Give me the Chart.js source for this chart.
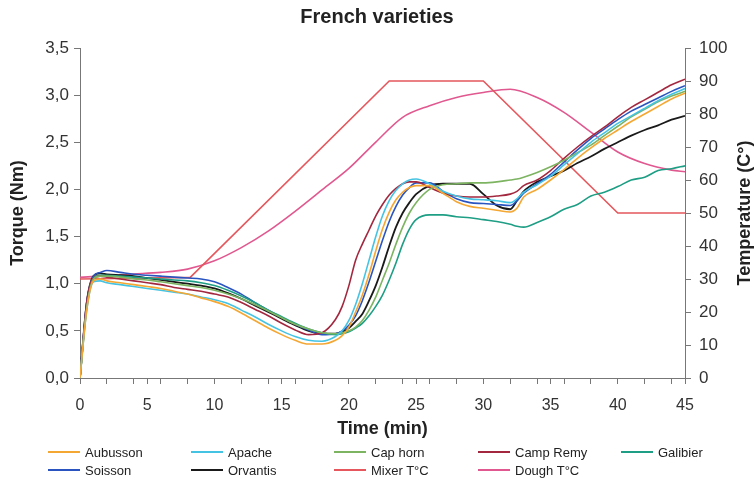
<!DOCTYPE html>
<html>
<head>
<meta charset="utf-8">
<script src="https://cdn.jsdelivr.net/npm/chart.js@4"></script>
<style>
  body { margin: 0; background: #fff; }
  #wrap { position: relative; width: 754px; height: 479px; }
  #legend { position: absolute; left: 0; top: 0; width: 754px; height: 479px; pointer-events: none;
            font-family: 'Liberation Sans', Arial, sans-serif; font-size: 13px; color: #222; }
  .item { position: absolute; display: flex; align-items: center; height: 16px; white-space: nowrap; }
  .swatch { display: inline-block; width: 32px; height: 2px; margin-right: 5px; }
</style>
</head>
<body>
<div id="wrap">
  <canvas id="chart" width="754" height="440"></canvas>
  <div id="legend"></div>
</div>
<script>
// time axis (min) shared by torque curves
const time = [0, 0.5, 1, 1.5, 2, 3, 4, 5, 6, 7, 8, 9, 10, 11, 12, 13, 14, 15, 16, 17, 18,
  19, 19.5, 20, 20.5, 21, 21.5, 22, 22.5, 23, 23.5, 24, 24.5, 25,
  26, 27, 28, 29, 30, 31, 32, 32.5, 33, 34, 35, 36, 37, 38, 39, 40, 41, 42, 43, 44, 45];

// torque (Nm)
const aubusson = [0, 0.72, 1.03, 1.05, 1.03,
  1.01, 0.99, 0.97, 0.95, 0.92, 0.89, 0.85, 0.81, 0.76, 0.69, 0.61, 0.53, 0.46, 0.40, 0.36, 0.36,
  0.40, 0.45, 0.54, 0.70, 0.88, 1.10, 1.35, 1.58, 1.76, 1.89, 1.97, 2.02, 2.04,
  2.04, 1.96, 1.87, 1.82, 1.80, 1.78, 1.76, 1.80,
  1.92, 2.00, 2.10, 2.21, 2.33, 2.44, 2.54, 2.63, 2.72, 2.80, 2.88, 2.96, 3.02];
const apache = [0, 0.72, 1.02, 1.03, 1.01,
  0.99, 0.97, 0.95, 0.93, 0.91, 0.89, 0.86, 0.83, 0.79, 0.72, 0.65, 0.57, 0.50, 0.44, 0.40, 0.39,
  0.44, 0.50, 0.61, 0.78, 1.00, 1.25, 1.50, 1.72, 1.88, 1.99, 2.06, 2.10, 2.11,
  2.06, 1.98, 1.93, 1.90, 1.89, 1.88, 1.86, 1.90,
  1.97, 2.05, 2.14, 2.26, 2.38, 2.50, 2.60, 2.70, 2.78, 2.86, 2.94, 3.01, 3.07];
const capHorn = [0, 0.74, 1.05, 1.08, 1.08,
  1.07, 1.05, 1.04, 1.02, 1.00, 0.98, 0.96, 0.93, 0.89, 0.84, 0.78, 0.71, 0.64, 0.57, 0.52, 0.48,
  0.47, 0.48, 0.50, 0.54, 0.61, 0.72, 0.86, 1.04, 1.22, 1.42, 1.60, 1.75, 1.86,
  2.00, 2.05, 2.06, 2.07, 2.07, 2.08, 2.10, 2.11,
  2.13, 2.18, 2.24, 2.31, 2.39, 2.47, 2.57, 2.67, 2.77, 2.85, 2.93, 2.99, 3.04];
const campRemy = [0, 0.80, 1.06, 1.08, 1.07,
  1.05, 1.03, 1.01, 0.99, 0.96, 0.94, 0.92, 0.89, 0.86, 0.80, 0.73, 0.66, 0.58, 0.51, 0.46, 0.48,
  0.62, 0.76, 0.98, 1.25, 1.42, 1.57, 1.72, 1.84, 1.94, 2.01, 2.06, 2.08, 2.08,
  2.02, 1.96, 1.93, 1.92, 1.92, 1.93, 1.95, 1.98,
  2.04, 2.10, 2.20, 2.33, 2.45, 2.56, 2.66, 2.77, 2.87, 2.95, 3.03, 3.11, 3.17];
const galibier = [0, 0.76, 1.06, 1.09, 1.09,
  1.08, 1.07, 1.06, 1.05, 1.04, 1.03, 1.01, 0.98, 0.93, 0.87, 0.80, 0.72, 0.65, 0.58, 0.52, 0.48,
  0.46, 0.47, 0.49, 0.53, 0.58, 0.66, 0.76, 0.88, 1.04, 1.22, 1.42, 1.58, 1.68,
  1.73, 1.73, 1.71, 1.70, 1.68, 1.66, 1.63, 1.61,
  1.60, 1.65, 1.71, 1.79, 1.84, 1.93, 1.97, 2.03, 2.10, 2.13, 2.20, 2.22, 2.25];
const soisson = [0, 0.80, 1.08, 1.12, 1.14,
  1.12, 1.10, 1.09, 1.08, 1.07, 1.06, 1.05, 1.02, 0.96, 0.89, 0.80, 0.72, 0.64, 0.57, 0.51, 0.46,
  0.47, 0.50, 0.56, 0.66, 0.82, 1.02, 1.24, 1.46, 1.66, 1.82, 1.94, 2.02, 2.07,
  2.07, 1.98, 1.90, 1.86, 1.85, 1.84, 1.83, 1.88,
  1.96, 2.06, 2.16, 2.29, 2.42, 2.54, 2.64, 2.74, 2.83, 2.90, 2.97, 3.04, 3.10];
const orvantis = [0, 0.80, 1.08, 1.11, 1.10,
  1.09, 1.08, 1.06, 1.04, 1.02, 1.00, 0.98, 0.95, 0.90, 0.84, 0.77, 0.70, 0.63, 0.56, 0.50, 0.47,
  0.47, 0.49, 0.53, 0.60, 0.68, 0.82, 0.98, 1.18, 1.40, 1.60, 1.75, 1.86, 1.95,
  2.04, 2.06, 2.06, 2.06, 1.95, 1.83, 1.79, 1.88,
  1.98, 2.08, 2.14, 2.20, 2.28, 2.35, 2.43, 2.50, 2.57, 2.63, 2.68, 2.74, 2.78];

// temperatures (°C)
const mixerTime = [0, 8.2, 23, 30, 40, 45];
const mixerTemp = [30, 30.5, 90, 90, 50, 50];
const doughTime = [0, 2, 4, 6, 8, 10, 12, 14, 16, 18, 20, 22, 24, 26, 28, 30, 32, 34, 36, 38, 40, 42, 44, 45];
const doughTemp = [30.5, 31, 31.5, 32, 33, 35.5, 39.5, 44.5, 50.5, 57, 63.5, 71.5, 79, 82.5, 85, 86.5, 87.5, 85, 80.5, 74.5, 68.5, 65, 63, 62.5];

const torqueNames = ['Aubusson', 'Apache', 'Cap horn', 'Camp Remy', 'Galibier', 'Soisson', 'Orvantis'];
const torqueSeries = [aubusson, apache, capHorn, campRemy, galibier, soisson, orvantis];
const torqueColors = ['#F5A733', '#45C3E3', '#7DB462', '#A3283F', '#1E9E84', '#2A55C0', '#1A1A1A'];
const mixerColor = '#E5575C';
const doughColor = '#E0588F';

const xyPoints = (xs, ys) => xs.map((x, i) => ({ x: x, y: ys[i] }));

const datasets = torqueSeries.map((vals, i) => ({
  label: torqueNames[i],
  data: xyPoints(time, vals),
  borderColor: torqueColors[i],
  borderWidth: i === 6 ? 1.8 : 1.6,
  pointRadius: 0,
  cubicInterpolationMode: 'monotone',
  yAxisID: 'y'
}));
datasets.push({
  label: 'Mixer T°C', data: xyPoints(mixerTime, mixerTemp), borderColor: mixerColor,
  borderWidth: 1.6, pointRadius: 0, tension: 0, yAxisID: 'y1'
});
datasets.push({
  label: 'Dough T°C', data: xyPoints(doughTime, doughTemp), borderColor: doughColor,
  borderWidth: 1.6, pointRadius: 0, cubicInterpolationMode: 'monotone', yAxisID: 'y1'
});

const font = "'Liberation Sans', Arial, sans-serif";

const rightTitle = {
  id: 'rightTitle',
  afterDraw(chart) {
    const ctx = chart.ctx;
    const area = chart.chartArea;
    ctx.save();
    ctx.translate(745, (area.top + area.bottom) / 2);
    ctx.rotate(-Math.PI / 2);
    ctx.font = 'bold 18px ' + font;
    ctx.fillStyle = '#222';
    ctx.textAlign = 'center';
    ctx.textBaseline = 'middle';
    ctx.fillText('Temperature (C°)', 0, 0);
    ctx.restore();
  }
};

new Chart(document.getElementById('chart'), {
  type: 'line',
  data: { datasets: datasets },
  plugins: [rightTitle],
  options: {
    responsive: false,
    animation: false,
    layout: { padding: 0 },
    plugins: {
      legend: { display: false },
      tooltip: { enabled: false },
      title: {
        display: true,
        text: 'French varieties',
        color: '#222',
        font: { family: font, size: 20, weight: 'bold' },
        padding: { top: 5, bottom: 19 }
      }
    },
    scales: {
      x: {
        type: 'linear', min: 0, max: 45,
        afterFit: s => { s.height = 62; },
        border: { display: true, color: '#777' },
        grid: {
          drawOnChartArea: false, tickLength: 6,
          tickColor: c => {
            const v = c.tick ? c.tick.value : 0;
            return (v % 2 === 0 || v % 5 === 0) ? '#777' : 'rgba(0,0,0,0)';
          }
        },
        ticks: {
          stepSize: 1, autoSkip: false, maxRotation: 0, padding: 12,
          color: '#333', font: { family: font, size: 16 },
          callback: v => (v % 5 === 0 ? String(v) : '')
        },
        title: {
          display: true, text: 'Time (min)', color: '#222',
          font: { family: font, size: 18, weight: 'bold' },
          padding: { top: 1, bottom: 0 }
        }
      },
      y: {
        position: 'left', min: 0, max: 3.5,
        afterFit: s => { s.width = 80; },
        border: { display: true, color: '#777' },
        grid: { drawOnChartArea: false, tickLength: 6, tickColor: '#777' },
        ticks: {
          stepSize: 0.5, padding: 5, color: '#333', font: { family: font, size: 17 },
          callback: v => v.toFixed(1).replace('.', ',')
        },
        title: {
          display: true, text: 'Torque (Nm)', color: '#222',
          font: { family: font, size: 18, weight: 'bold' },
          padding: { top: 7, bottom: 0 }
        }
      },
      y1: {
        position: 'right', min: 0, max: 100,
        afterFit: s => { s.width = 69; },
        border: { display: true, color: '#777' },
        grid: { drawOnChartArea: false, tickLength: 6, tickColor: '#777' },
        ticks: { stepSize: 10, padding: 8, color: '#333', font: { family: font, size: 17 } }
      }
    }
  }
});

// legend laid out like the original: five columns, two rows
const legendNames = ['Aubusson', 'Apache', 'Cap horn', 'Camp Remy', 'Galibier',
  'Soisson', 'Orvantis', 'Mixer T°C', 'Dough T°C'];
const legendColors = [torqueColors[0], torqueColors[1], torqueColors[2], torqueColors[3], torqueColors[4],
  torqueColors[5], torqueColors[6], mixerColor, doughColor];
const colX = [48, 191, 334, 478, 621];
const rowY = [444, 462];
const legend = document.getElementById('legend');
legendNames.forEach((name, i) => {
  const el = document.createElement('div');
  el.className = 'item';
  el.style.left = colX[i % 5] + 'px';
  el.style.top = rowY[Math.floor(i / 5)] + 'px';
  el.innerHTML = '<span class="swatch" style="background:' + legendColors[i] + '"></span>' + name;
  legend.appendChild(el);
});
</script>
</body>
</html>
